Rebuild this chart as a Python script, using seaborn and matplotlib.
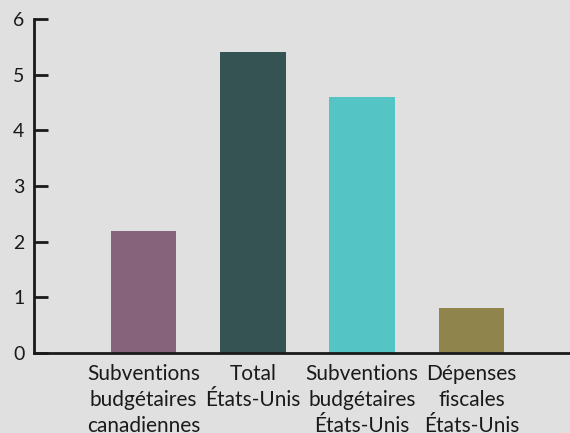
import matplotlib
matplotlib.use("Agg")
import matplotlib.pyplot as plt
import seaborn as sns
import pandas as pd

categories = ["Subventions\nbudgétaires\ncanadiennes", "Total\nÉtats-Unis",
              "Subventions\nbudgétaires\nÉtats-Unis", "Dépenses\nfiscales\nÉtats-Unis"]
values = [2.2, 5.4, 4.6, 0.8]
colors = ["#86627b", "#365354", "#55c4c4", "#8f854c"]
yticks = [0, 1, 2, 3, 4, 5, 6]

bg = "#dfe0df"
sns.set_theme(style="white")
plt.rcParams["font.family"] = ["Lato", "DejaVu Sans"]

df = pd.DataFrame({"cat": categories, "val": values})

fig = plt.figure(figsize=(5.7, 4.33), dpi=100, facecolor=bg)
ax = fig.add_axes([34/570, 80/433, 1 - 34/570, (353-19)/433])
ax.set_facecolor(bg)

sns.barplot(data=df, x="cat", y="val", hue="cat", palette=colors, legend=False,
            width=0.6, saturation=1, linewidth=0, edgecolor="none", ax=ax)

ax.set_xlim(-1.0, 3.9)
ax.set_ylim(0, 6)
ax.set_yticks(yticks)
ax.set_yticklabels([str(t) for t in yticks], fontsize=14, color="#1a1a1a")
ax.set_xlabel("")
ax.set_ylabel("")
for s in ["top", "right"]:
    ax.spines[s].set_visible(False)
for s in ["left", "bottom"]:
    ax.spines[s].set_color("#1a1a1a")
    ax.spines[s].set_linewidth(2)
ax.tick_params(axis="y", direction="in", length=10, width=2, color="#1a1a1a", pad=7, left=True)
ax.tick_params(axis="x", length=0, pad=8.0)
for lab in ax.get_xticklabels():
    lab.set_fontsize(15)
    lab.set_linespacing(1.38)
    lab.set_color("#1a1a1a")
    lab.set_ha("center")
    lab.set_va("top")

fig.savefig("out.png", dpi=100, facecolor=bg)
